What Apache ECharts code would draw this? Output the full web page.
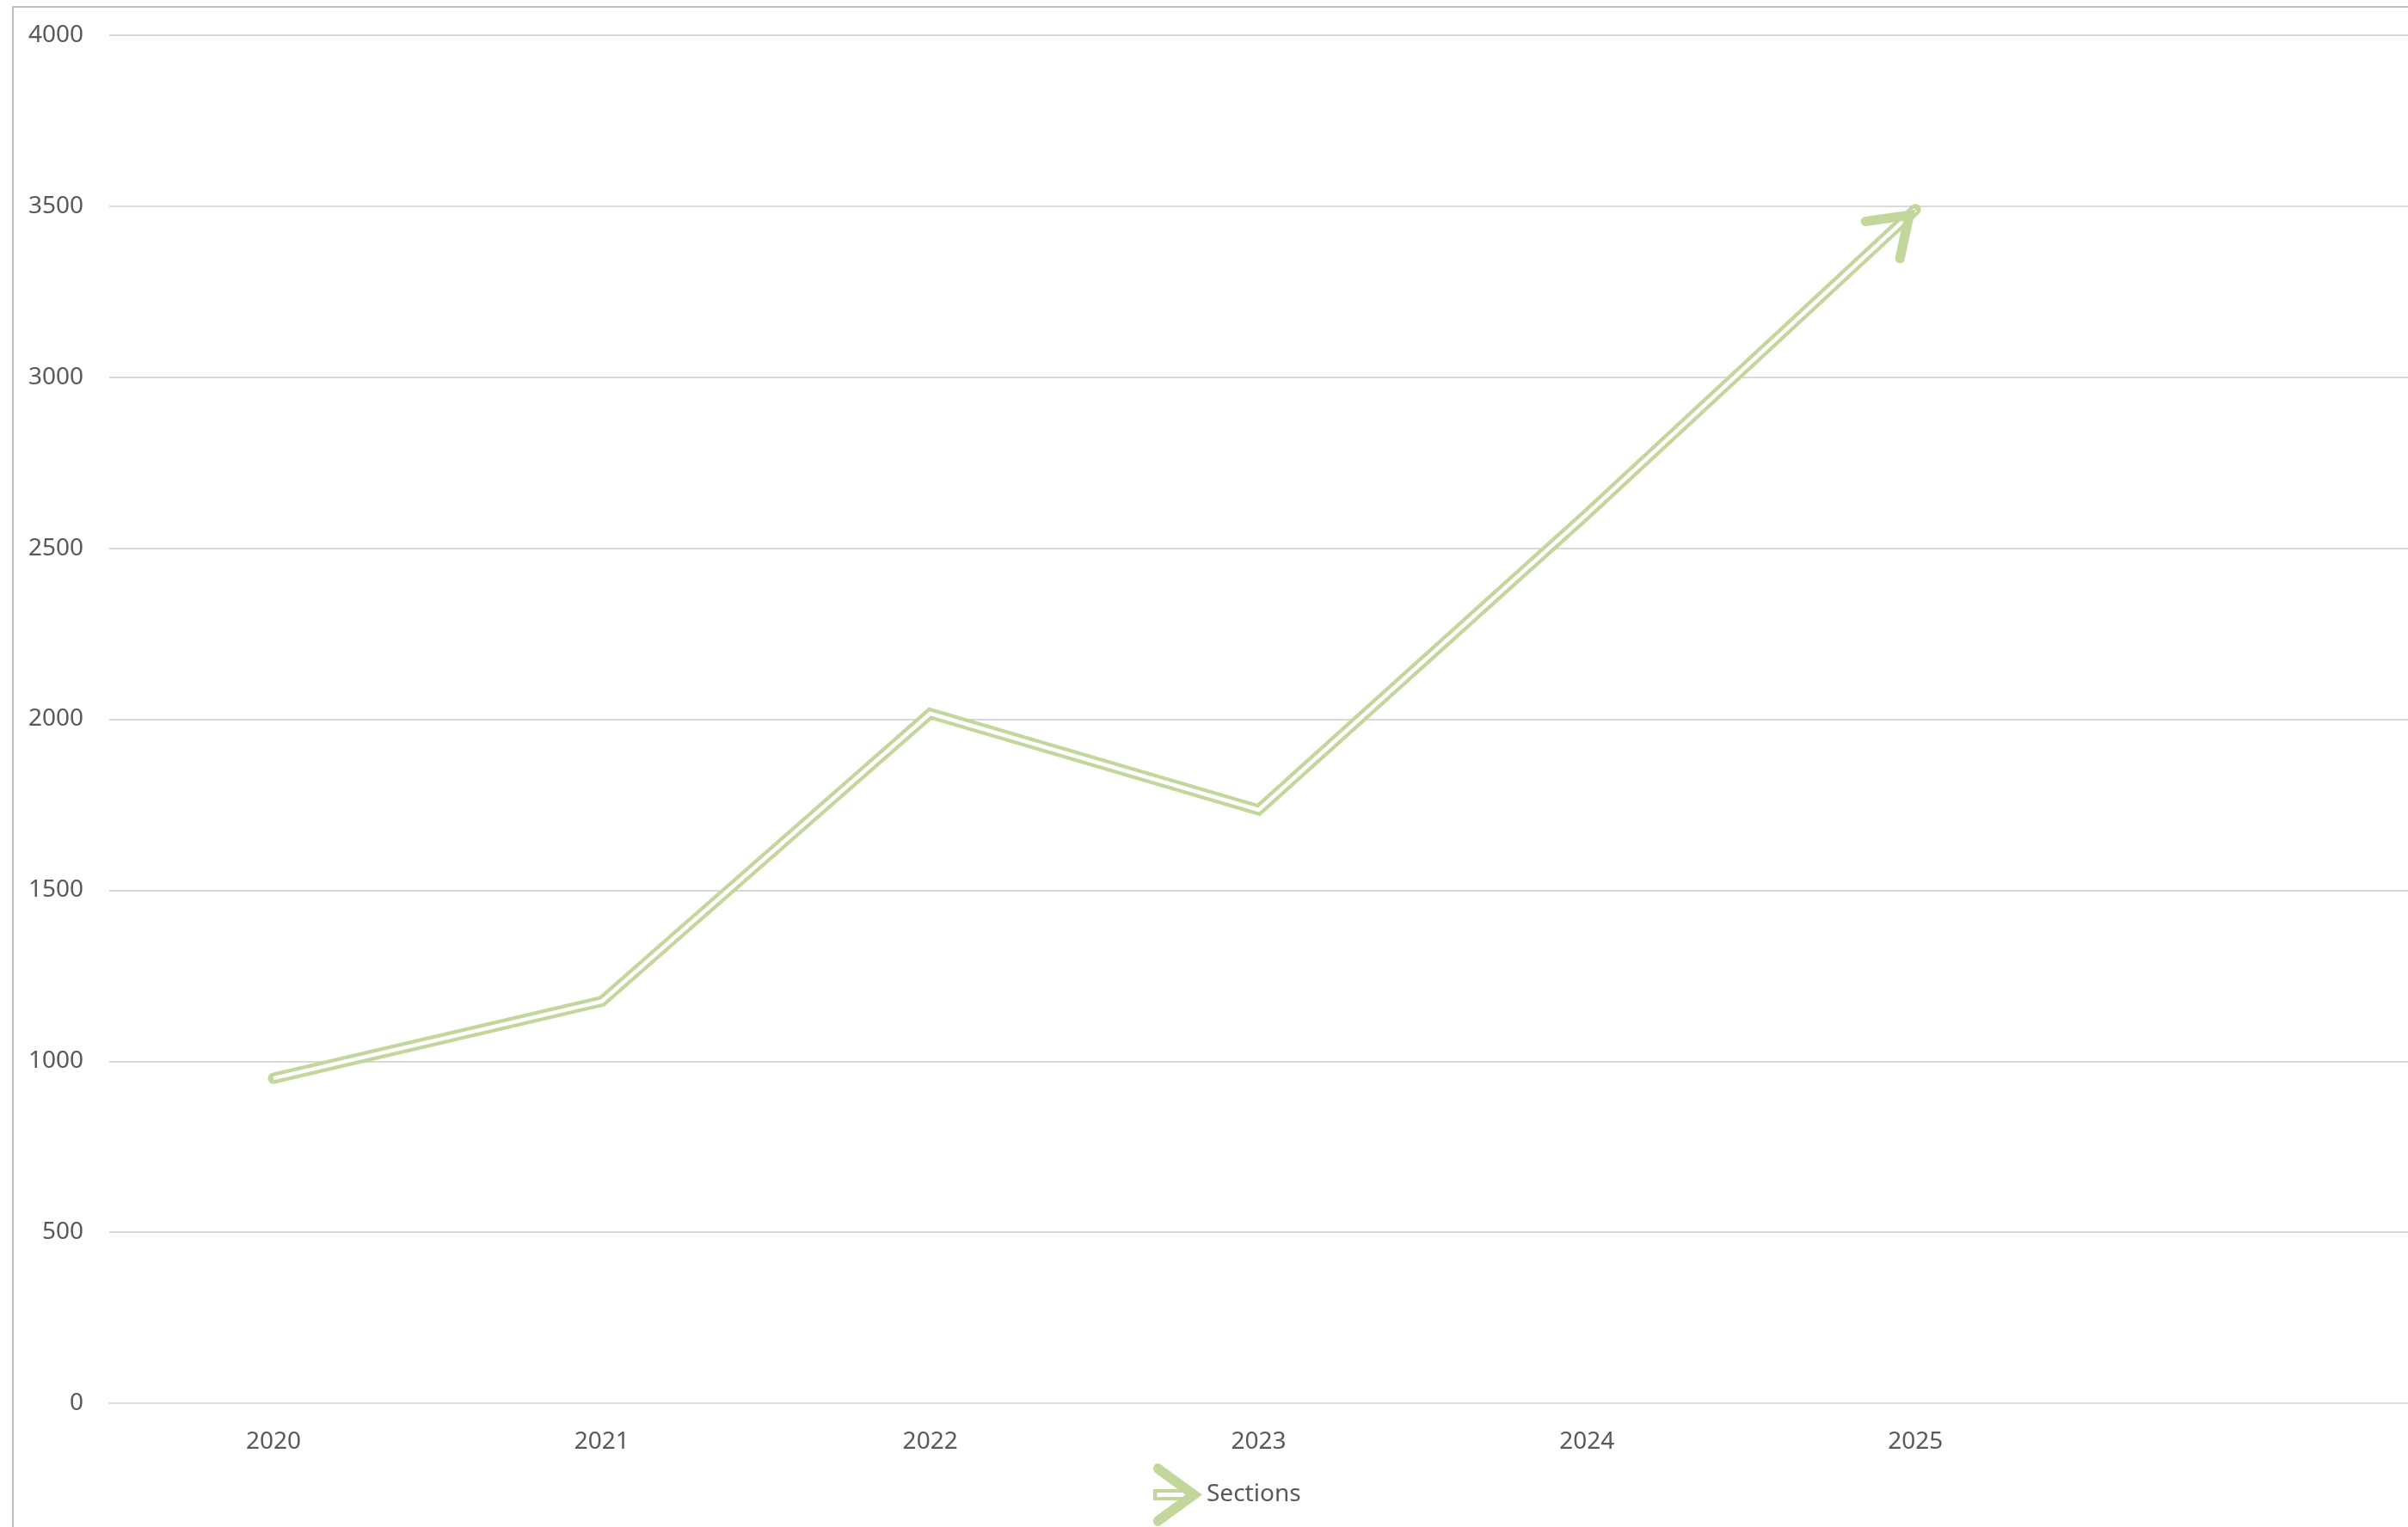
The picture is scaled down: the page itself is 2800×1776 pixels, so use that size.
<!DOCTYPE html>
<html>
<head>
<meta charset="utf-8">
<script src="https://cdn.jsdelivr.net/npm/echarts@6/dist/echarts.min.js"></script>
<style>
html,body{margin:0;padding:0;background:#fff;}
#chart{width:2800px;height:1776px;}
</style>
</head>
<body>
<div id="chart"></div>
<script>
// ---- data ----
const categories = ['2020', '2021', '2022', '2023', '2024', '2025', ''];
const sectionValues = [950, 1175, 2017, 1735, 2600, 3490];
const yTicks = { min: 0, max: 4000, interval: 500 };
const seriesName = 'Sections';

// ---- styles ----
const GREEN = '#c3d69b';
const TEXT = '#595959';
const FONT = 'Noto Sans';

const arrowPath = 'path://M1.08,52.08 L37.55,0 L74.02,52.08 A6,6 0 0 1 64.18,58.96 L37.55,20.92 L10.92,58.96 A6,6 0 0 1 1.08,52.08 Z';
const legendPath = 'path://M11.3,0.97 L66,36.5 L11.3,72.03 A6,6 0 0 1 4.7,62 L44,36.5 L4.7,11 A6,6 0 0 1 11.3,0.97 Z ' +
  'M2,30 L50,30 L50,43 L2,43 Z M7,34 L7,39 L50,39 L50,34 Z';

const last = sectionValues.length - 1;

const chart = echarts.init(document.getElementById('chart'), null, { renderer: 'canvas' });
chart.setOption({
  animation: false,
  backgroundColor: '#ffffff',
  graphic: [{
    type: 'rect',
    silent: true,
    z: 0,
    shape: { x: 15, y: 8, width: 3000, height: 3000 },
    style: { fill: 'none', stroke: '#bfbfbf', lineWidth: 2 }
  }],
  grid: { left: 127, right: 0, top: 41, bottom: 144, containLabel: false },
  legend: {
    data: [{ name: seriesName, icon: legendPath }],
    left: 1336,
    top: 1697,
    itemWidth: 57,
    itemHeight: 73,
    symbolKeepAspect: false,
    textStyle: { color: TEXT, fontSize: 28, fontFamily: FONT },
    selectedMode: false
  },
  xAxis: {
    type: 'category',
    data: categories,
    boundaryGap: true,
    axisLine: { show: true, lineStyle: { color: '#d9d9d9', width: 2 } },
    axisTick: { show: false },
    axisLabel: { color: TEXT, fontSize: 28, fontFamily: FONT, margin: 31 },
    splitLine: { show: false }
  },
  yAxis: {
    type: 'value',
    min: yTicks.min,
    max: yTicks.max,
    interval: yTicks.interval,
    axisLine: { show: false },
    axisTick: { show: false },
    axisLabel: { color: TEXT, fontSize: 28, fontFamily: FONT, margin: 30, formatter: function (v) { return String(v); } },
    splitLine: { show: true, lineStyle: { color: '#d9d9d9', width: 2 } }
  },
  series: [
    {
      name: seriesName,
      type: 'line',
      data: sectionValues,
      color: GREEN,
      symbol: 'none',
      z: 2,
      lineStyle: { color: GREEN, width: 13, cap: 'round', join: 'miter' },
      emphasis: { disabled: true }
    },
    {
      name: seriesName + ' (inner)',
      type: 'line',
      data: sectionValues,
      symbol: 'none',
      z: 3,
      lineStyle: { color: '#ffffff', width: 4.5, cap: 'butt', join: 'miter' },
      emphasis: { disabled: true },
      markLine: {
        silent: true,
        z: 6,
        symbol: ['none', arrowPath],
        symbolSize: [70, 57.4],
        symbolOffset: [0, [0, '50%']],
        label: { show: false },
        lineStyle: { color: GREEN, width: 0, type: 'solid' },
        emphasis: { disabled: true },
        data: [[
          { coord: [last - 1, sectionValues[last - 1]] },
          { coord: [last, sectionValues[last]] }
        ]]
      }
    }
  ]
});
</script>
</body>
</html>
